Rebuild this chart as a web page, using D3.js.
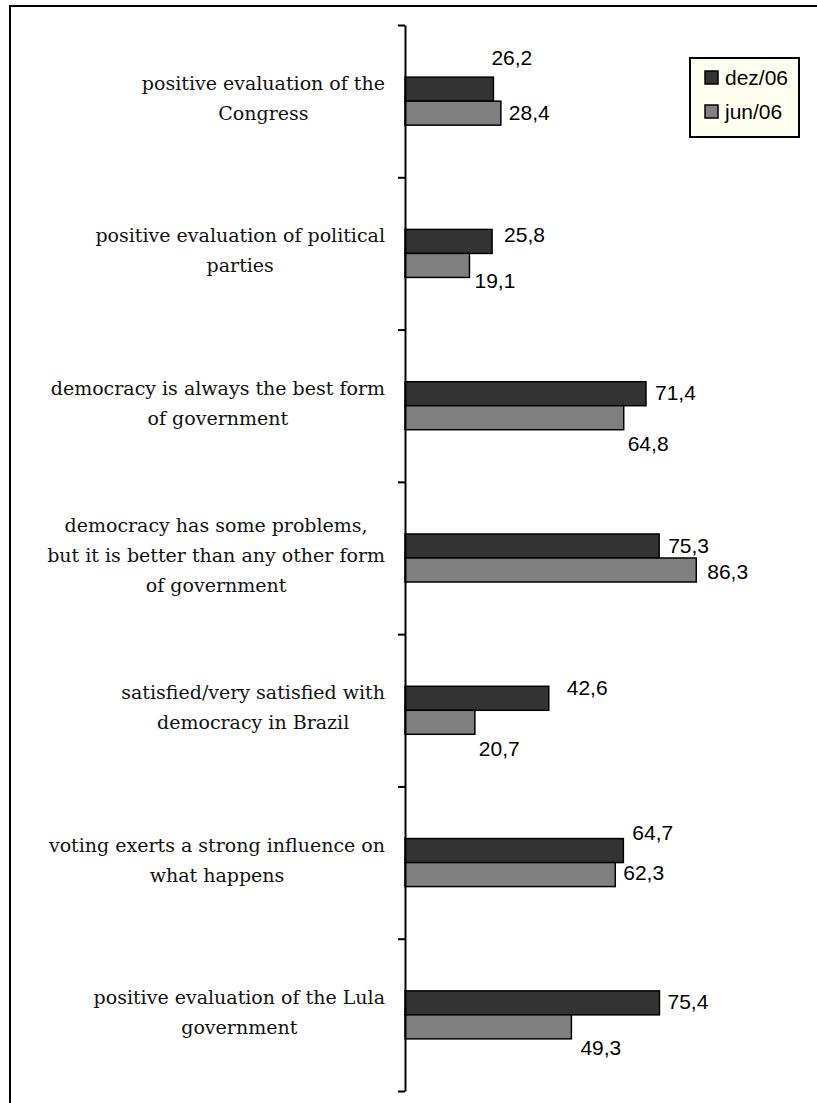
<!DOCTYPE html>
<html>
<head>
<meta charset="utf-8">
<script src="https://cdnjs.cloudflare.com/ajax/libs/d3/7.8.5/d3.min.js"></script>
<title>Political evaluation bars</title>
<style>
	body { margin: 0; background: #fff; }
</style>
</head>
<body>
<div id="chartDiv"></div>
<script>

	// data
	const categories = ['congress', 'parties', 'demBest', 'demProblems', 'satisfied', 'voting', 'lula'];
	const categoryLines = [
		['positive evaluation of the', 'Congress'],
		['positive evaluation of political', 'parties'],
		['democracy is always the best form', 'of government'],
		['democracy has some problems,', 'but it is better than any other form', 'of government'],
		['satisfied/very satisfied with', 'democracy in Brazil'],
		['voting exerts a strong influence on', 'what happens'],
		['positive evaluation of the Lula', 'government']
	];
	const seriesNames = ['dez/06', 'jun/06'];
	const dez06 = [26.2, 25.8, 71.4, 75.3, 42.6, 64.7, 75.4];
	const jun06 = [28.4, 19.1, 64.8, 86.3, 20.7, 62.3, 49.3];

	// hand-moved data labels: [dx from bar end, dy from bar middle]
	const dezNudge = [[-2, -31], [12, -7], [9, -1], [9, 0], [18, -11], [9, -18], [8, -1]];
	const junNudge = [[8, 0], [5, 15], [4, 26], [11, 2], [4, 26], [8, -2], [9, 21]];

	const seriesValues = [dez06, jun06];
	const seriesNudge = [dezNudge, junNudge];
	const seriesFill = ['#333333', '#808080'];

	const width = 817, height = 1103;
	const axisX = 405, plotTop = 25, plotBottom = 1091;
	const barH = 24;
	const labelRight = 385;

	const fmt = d3.formatLocale({decimal: ',', thousands: '.', grouping: [3], currency: ['', '']}).format('.1f');

	const svg = d3.select('#chartDiv').append('svg')
		.attr('width', width)
		.attr('height', height);

	// outer frame (right and bottom fall outside the picture)
	svg.append('rect')
		.attr('x', 10).attr('y', 6)
		.attr('width', width + 20).attr('height', height + 20)
		.attr('fill', '#fff')
		.attr('stroke', '#000')
		.attr('stroke-width', 2);

	// scales
	const x = d3.scaleLinear().domain([0, 100]).range([axisX, axisX + 337.5]);
	const y0 = d3.scaleBand().domain(categories).range([plotTop, plotBottom]);
	const y1 = d3.scaleBand().domain(seriesNames)
		.range([y0.bandwidth() / 2 - barH, y0.bandwidth() / 2 + barH]);

	const rows = categories.map((c, i) => ({
		cat: c,
		bars: seriesNames.map((s, j) => ({
			series: s,
			value: seriesValues[j][i],
			nudge: seriesNudge[j][i],
			fill: seriesFill[j]
		}))
	}));

	const groupG = svg.selectAll('g.cat')
		.data(rows)
		.enter()
		.append('g')
		.attr('class', 'cat')
		.attr('transform', d => `translate(0,${y0(d.cat)})`);

	groupG.selectAll('rect')
		.data(d => d.bars)
		.enter()
		.append('rect')
		.attr('x', x(0))
		.attr('y', d => y1(d.series))
		.attr('width', d => x(d.value) - x(0))
		.attr('height', y1.bandwidth())
		.attr('fill', d => d.fill)
		.attr('stroke', '#000')
		.attr('stroke-width', 1.5);

	groupG.selectAll('text.val')
		.data(d => d.bars)
		.enter()
		.append('text')
		.attr('class', 'val')
		.attr('x', d => x(d.value) + d.nudge[0])
		.attr('y', d => y1(d.series) + y1.bandwidth() / 2 + d.nudge[1])
		.attr('dy', '0.35em')
		.attr('font-family', '"Liberation Sans", Arial, sans-serif')
		.attr('font-size', 21)
		.attr('fill', '#000')
		.text(d => fmt(d.value));

	// category labels, lines centred inside a block that is right-aligned
	const lineGap = 30;
	groupG.each(function (d, i) {
		const lines = categoryLines[i];
		const mid = y0.bandwidth() / 2;
		const t = d3.select(this).append('text')
			.attr('font-family', '"DejaVu Serif", serif')
			.attr('font-size', 19)
			.attr('fill', '#111')
			.attr('text-anchor', 'middle');
		const spans = t.selectAll('tspan')
			.data(lines)
			.enter()
			.append('tspan')
			.attr('y', (l, k) => mid + (k - (lines.length - 1) / 2) * lineGap + 4)
			.text(l => l);
		let maxW = 0;
		spans.each(function () { maxW = Math.max(maxW, this.getComputedTextLength()); });
		spans.attr('x', labelRight - maxW / 2);
	});

	// axis with ticks between categories
	const tickScale = d3.scaleLinear().domain([0, categories.length]).range([plotTop, plotBottom]);
	const axisG = svg.append('g')
		.attr('transform', `translate(${axisX},0)`)
		.call(d3.axisLeft(tickScale)
			.tickValues(d3.range(categories.length + 1))
			.tickFormat('')
			.tickSize(7)
			.tickSizeOuter(0));
	axisG.selectAll('path, line')
		.attr('stroke', '#000')
		.attr('stroke-width', 2);

	// legend
	const legendG = svg.append('g').attr('transform', 'translate(690,58)');
	legendG.append('rect')
		.attr('width', 109).attr('height', 79)
		.attr('fill', '#fffff0')
		.attr('stroke', '#000')
		.attr('stroke-width', 2);
	const legItem = legendG.selectAll('g.item')
		.data(seriesNames)
		.enter()
		.append('g')
		.attr('class', 'item')
		.attr('transform', (d, i) => `translate(15,${20 + i * 34})`);
	legItem.append('rect')
		.attr('y', -7).attr('width', 13).attr('height', 13)
		.attr('fill', (d, i) => seriesFill[i])
		.attr('stroke', '#000')
		.attr('stroke-width', 1.5);
	legItem.append('text')
		.attr('x', 20)
		.attr('dy', '0.35em')
		.attr('font-family', '"Liberation Sans", Arial, sans-serif')
		.attr('font-size', 21)
		.text(d => d);

</script>
</body>
</html>
